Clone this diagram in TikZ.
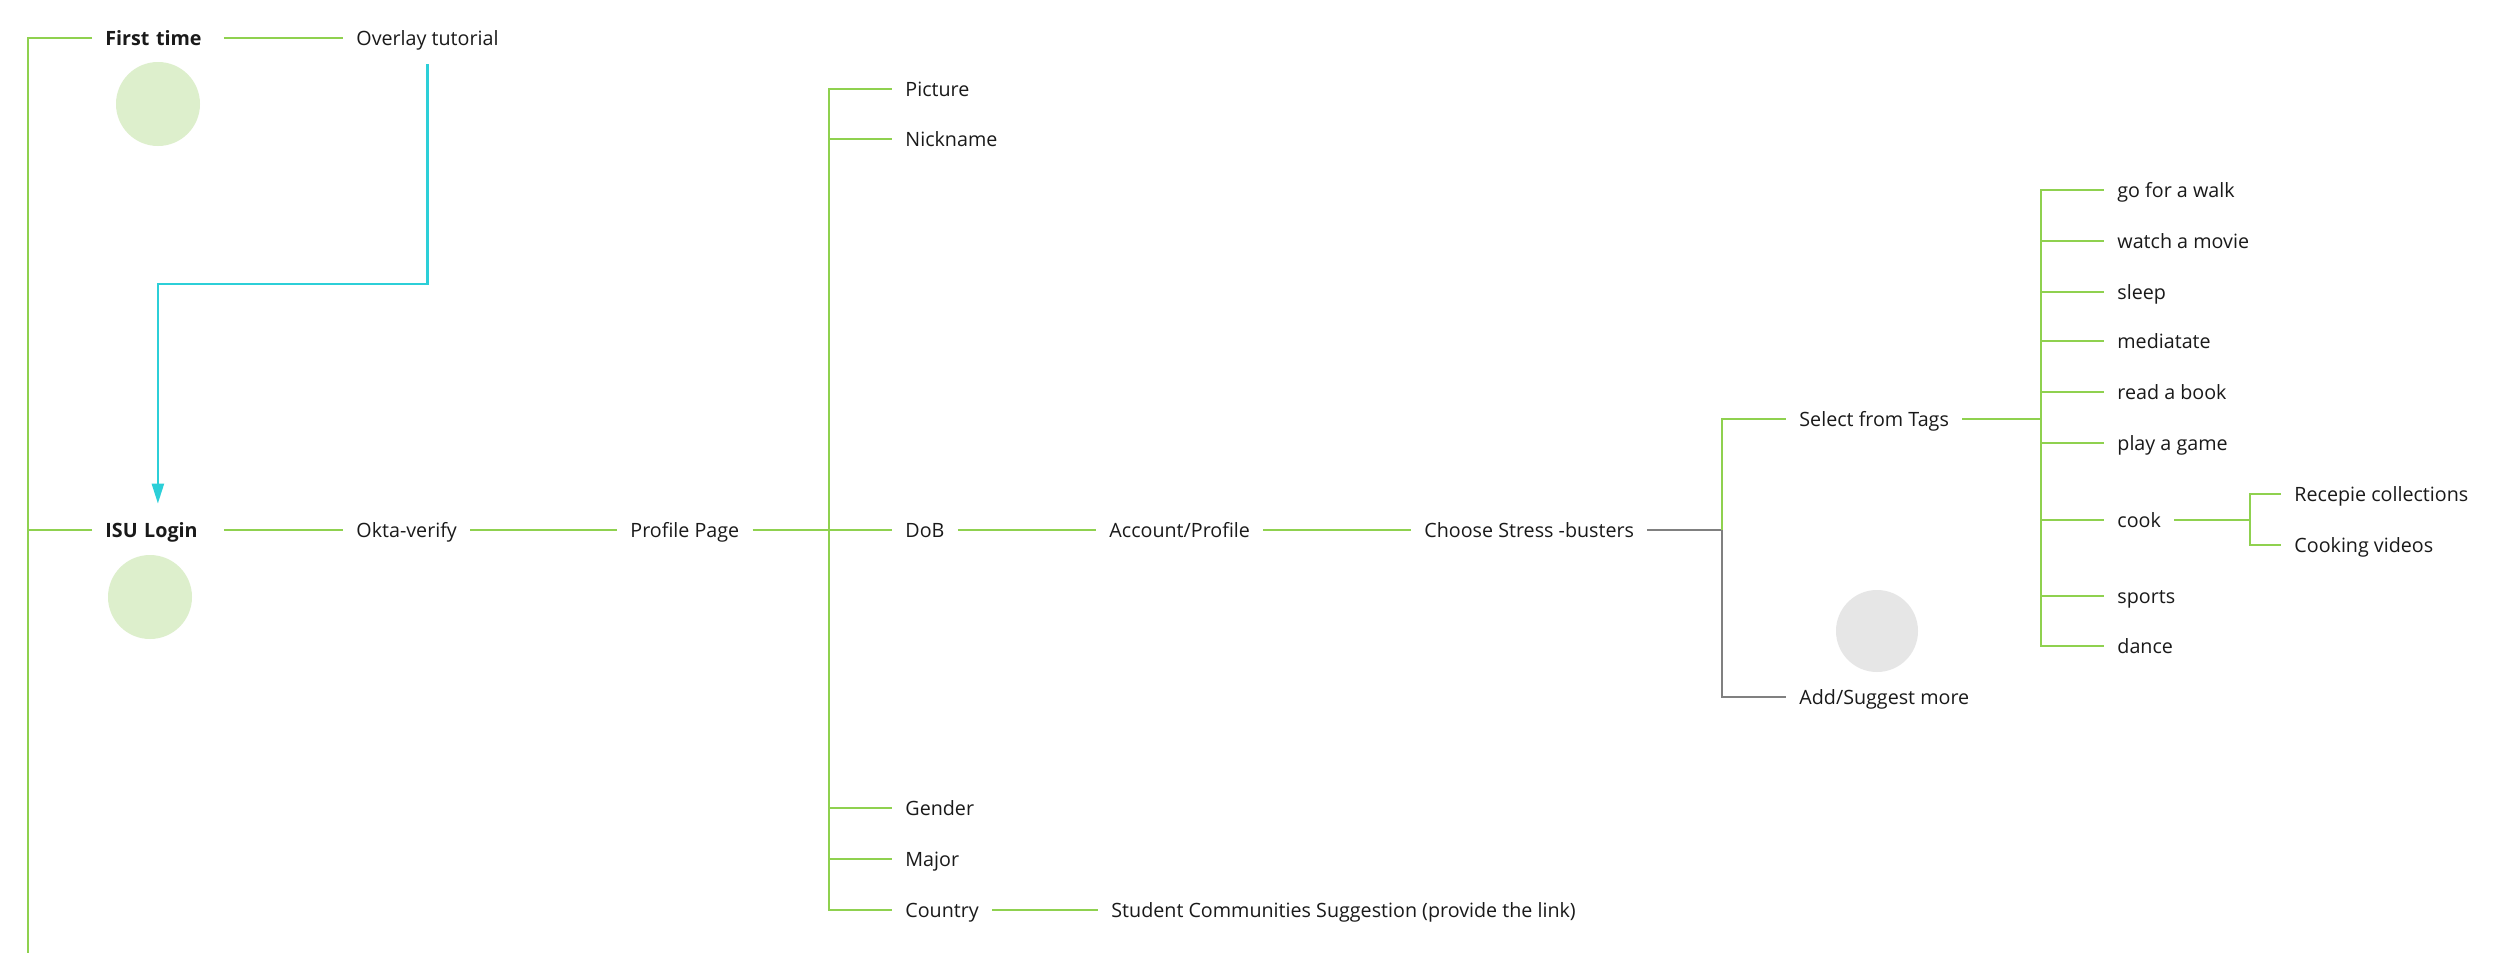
\documentclass[tikz,border=0pt]{standalone}
\usepackage{fontspec}
\setmainfont{Open Sans}
\usetikzlibrary{arrows.meta}
\definecolor{lg}{HTML}{8FD14F}
\definecolor{lgfill}{HTML}{DDEFCC}
\definecolor{cy}{HTML}{2CCFD8}
\definecolor{gline}{HTML}{808080}
\definecolor{gfill}{HTML}{E6E6E6}
\definecolor{ink}{HTML}{1A1A1A}
\begin{document}
\begin{tikzpicture}[x=0.5pt,y=-0.5pt,
  txt/.style={anchor=west, inner xsep=6.5pt, inner ysep=0pt, text height=7pt, text depth=0pt,
              minimum height=26pt, font=\fontsize{9.85}{11}\selectfont, text=ink},
  boldtxt/.style={txt, font=\fontsize{9.85}{11}\selectfont\bfseries, text width=52.5pt, align=left},
  gl/.style={draw=lg, line width=1.2pt},
  grl/.style={draw=gline, line width=1.2pt},
  cyl/.style={draw=cy, line width=1.2pt, -{Triangle[length=10pt,width=6pt]}},
  blob/.style={circle, fill=lgfill, minimum size=42pt, inner sep=0pt},
  greyblob/.style={circle, fill=gfill, minimum size=41pt, inner sep=0pt}]
\useasboundingbox (0,0) rectangle (2500,953);
\fill[white] (0,0) rectangle (2500,953);

% circles
\node[blob] (c1) at (158,104) {};
\node[blob] (c2) at (150,597) {};
\node[greyblob] (c3) at (1877,631) {};

% nodes
\node[boldtxt] (ft) at (92,38) {First time};
\node[boldtxt] (isu) at (92,530) {ISU Login};
\node[txt] (ov) at (343,38) {Overlay tutorial};
\node[txt] (okta) at (343,530) {Okta-verify};
\node[txt] (pp) at (617,530) {Profile Page};
\node[txt] (pic) at (892,89) {Picture};
\node[txt] (nick) at (892,139) {Nickname};
\node[txt] (dob) at (892,530) {DoB};
\node[txt] (gen) at (892,808) {Gender};
\node[txt] (maj) at (892,859) {Major};
\node[txt] (cty) at (892,910) {Country};
\node[txt] (scs) at (1098,910) {Student Communities Suggestion (provide the link)};
\node[txt] (acc) at (1096,530) {Account/Profile};
\node[txt] (csb) at (1411,530) {Choose Stress -busters};
\node[txt] (sft) at (1786,419) {Select from Tags};
\node[txt] (add) at (1786,697) {Add/Suggest more};
\node[txt] (walk) at (2104,190) {go for a walk};
\node[txt] (movie) at (2104,241) {watch a movie};
\node[txt] (sleep) at (2104,292) {sleep};
\node[txt] (med) at (2104,341) {mediatate};
\node[txt] (book) at (2104,392) {read a book};
\node[txt] (game) at (2104,443) {play a game};
\node[txt] (cook) at (2104,520) {cook};
\node[txt] (sports) at (2104,596) {sports};
\node[txt] (dance) at (2104,646) {dance};
\node[txt] (rec) at (2281,494) {Recepie collections};
\node[txt] (vid) at (2281,545) {Cooking videos};

% junctions
\coordinate (trunkbot) at (28,953);
\coordinate (pj) at (829,530);
\coordinate (sj) at (1722,530);
\coordinate (tj) at (2041,419);
\coordinate (cj) at (2250,520);
\coordinate (cbend) at (0,284);

% connectors
\draw[gl] (ft.west) -| (trunkbot);
\draw[gl] (isu.west) -| (trunkbot);
\draw[gl] (ft.east) -- (ov.west);
\draw[cyl] (ov.south) -- (ov.south |- cbend) -| (isu.north);
\draw[gl] (isu.east) -- (okta.west);
\draw[gl] (okta.east) -- (pp.west);
\draw[gl] (pp.east) -- (pj);
\foreach \c in {pic,nick,dob,gen,maj,cty} \draw[gl] (pj) |- (\c.west);
\draw[gl] (cty.east) -- (scs.west);
\draw[gl] (dob.east) -- (acc.west);
\draw[gl] (acc.east) -- (csb.west);
\draw[grl] (csb.east) -- (sj);
\draw[gl] (sj) |- (sft.west);
\draw[grl] (sj) |- (add.west);
\draw[gl] (sft.east) -- (tj);
\foreach \c in {walk,movie,sleep,med,book,game,cook,sports,dance} \draw[gl] (tj) |- (\c.west);
\draw[gl] (cook.east) -- (cj);
\draw[gl] (cj) |- (rec.west);
\draw[gl] (cj) |- (vid.west);
\end{tikzpicture}
\end{document}
